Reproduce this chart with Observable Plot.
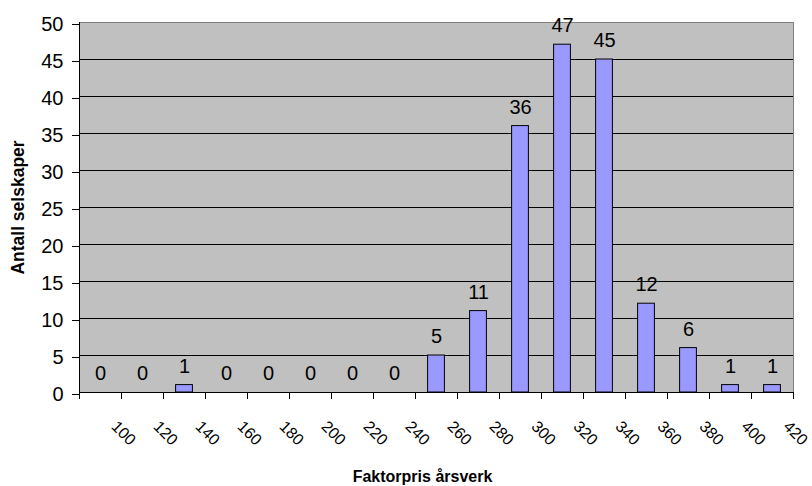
<!DOCTYPE html>
<html>
<head>
<meta charset="utf-8">
<script src="https://cdn.jsdelivr.net/npm/d3@7"></script>
<script src="https://cdn.jsdelivr.net/npm/@observablehq/plot@0.6"></script>
<style>
  html, body { margin: 0; padding: 0; background: #fff; }
</style>
</head>
<body>
<div id="chart"></div>
<script>
// Price classes (class centre) and number of companies in each class
const categories = [100, 120, 140, 160, 180, 200, 220, 240, 260, 280, 300, 320, 340, 360, 380, 400, 420];
const counts     = [0, 0, 1, 0, 0, 0, 0, 0, 5, 11, 36, 47, 45, 12, 6, 1, 1];
const yTicks     = [0, 5, 10, 15, 20, 25, 30, 35, 40, 45, 50];

const classWidth = 20;
const data = categories.map((c, i) => ({cat: c, count: counts[i]}));
// class boundaries carry the axis tick marks; labels sit at class centres
const bounds = categories.map(c => c - classWidth / 2).concat([categories[categories.length - 1] + classWidth / 2]);

const chart = Plot.plot({
  width: 812,
  height: 486,
  marginLeft: 79,
  marginRight: 19,
  marginTop: 22,
  marginBottom: 94,
  style: {fontFamily: "'Liberation Sans', Arial, sans-serif", background: "#fff", color: "#000"},
  x: {domain: [bounds[0], bounds[bounds.length - 1]], label: null},
  y: {domain: [0, 50], label: null},
  marks: [
    Plot.frame({fill: "#C0C0C0", stroke: "#808080"}),
    Plot.ruleY(yTicks.filter(v => v > 0 && v < 50), {stroke: "#000", strokeWidth: 1}),
    Plot.rectY(data, {
      x1: d => d.cat - classWidth / 2,
      x2: d => d.cat + classWidth / 2,
      y: "count",
      insetLeft: 12.6,
      insetRight: 12.6,
      fill: "#9999FF",
      stroke: "#000",
      strokeWidth: 1
    }),
    Plot.text(data, {
      x: "cat",
      y: "count",
      text: d => String(d.count),
      lineAnchor: "bottom",
      dy: -12.5,
      fontSize: 20,
      fill: "#000"
    }),
    Plot.ruleY([0], {stroke: "#000"}),
    Plot.ruleX([bounds[0]], {stroke: "#000"}),
    Plot.axisY(yTicks, {tickSize: 7, tickPadding: 9, fontSize: 20, dy: 2, label: null}),
    Plot.axisX(bounds, {tickSize: 7, tickFormat: () => "", label: null}),
    Plot.text(categories, {
      x: d => d,
      frameAnchor: "bottom",
      rotate: 45,
      textAnchor: "start",
      dx: 10,
      dy: 35,
      fontSize: 16,
      fill: "#000"
    }),
    Plot.text(["Antall selskaper"], {
      frameAnchor: "left",
      rotate: -90,
      textAnchor: "middle",
      dx: -61,
      fontSize: 17.5,
      fontWeight: "bold",
      fill: "#000"
    }),
    Plot.text(["Faktorpris årsverk"], {
      frameAnchor: "bottom",
      textAnchor: "middle",
      lineAnchor: "bottom",
      dx: -14,
      dy: 89.7,
      fontSize: 16,
      fontWeight: "bold",
      fill: "#000"
    })
  ]
});

document.getElementById("chart").appendChild(chart);
</script>
</body>
</html>
